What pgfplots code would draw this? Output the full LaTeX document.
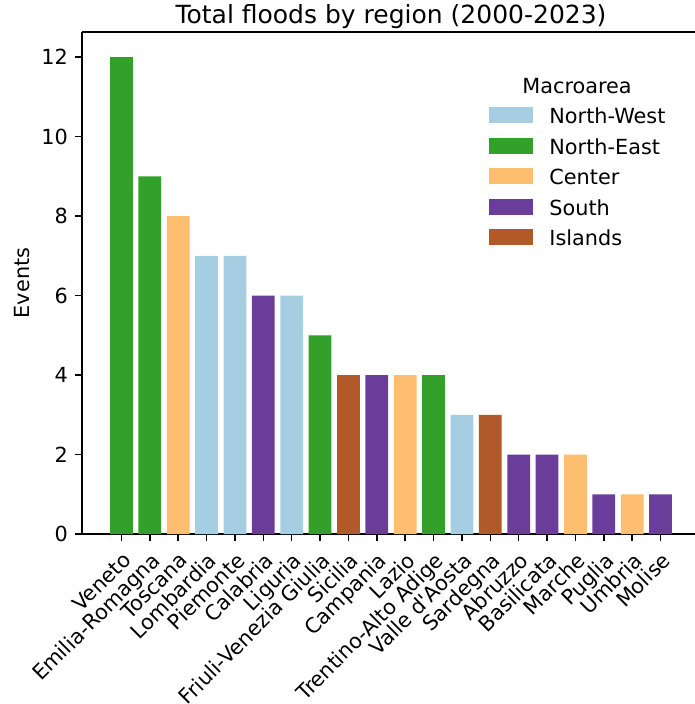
\documentclass[border=0pt]{standalone}
\usepackage{fontspec}
\setmainfont{DejaVu Sans}
\usepackage{pgfplots}
\pgfplotsset{compat=1.18}
\definecolor{cnw}{HTML}{A6CEE3}
\definecolor{cne}{HTML}{33A02C}
\definecolor{cce}{HTML}{FDBF6F}
\definecolor{cso}{HTML}{6A3D9A}
\definecolor{cis}{HTML}{B15928}
\begin{document}
\begin{tikzpicture}
\begin{axis}[
  at={(0,0)}, anchor=south west,
  scale only axis, width=309pt, height=251pt,
  xmin=-1.39, xmax=20.39, ymin=0, ymax=12.63,
  axis x line=box, axis y line=left,
  axis line style={-, line width=0.8pt},
  xtick pos=left,
  tick align=outside, major tick length=3.5pt,
  tick style={black, line width=0.8pt},
  ybar, bar width=0.8, bar shift=0pt,
  xtick={0,...,19},
  xticklabels={Veneto,Emilia-Romagna,Toscana,Lombardia,Piemonte,Calabria,Liguria,Friuli-Venezia Giulia,Sicilia,Campania,Lazio,Trentino-Alto Adige,Valle d\textquotesingle Aosta,Sardegna,Abruzzo,Basilicata,Marche,Puglia,Umbria,Molise},
  xticklabel style={rotate=45, anchor=north east, font=\fontsize{10.4}{12}\selectfont},
  ytick={0,2,4,6,8,10,12},
  yticklabel style={font=\fontsize{10.4}{12}\selectfont},
  /pgf/number format/assume math mode=true,
  ylabel={Events},
  every axis y label/.style={at={(axis description cs:-0.097,0.5)}, rotate=90, anchor=center, font=\fontsize{10.4}{12}\selectfont},
  title={Total floods by region (2000-2023)},
  title style={at={(0.5,1)}, anchor=base, inner sep=0pt, yshift=-2pt, font=\fontsize{12.5}{14}\selectfont},
  legend style={at={(0.6586,0.8505)}, anchor=north west, draw=none, fill=none, inner sep=0pt,
    row sep=4.95pt, column sep=0pt, font=\fontsize{10.4}{12}\selectfont,
    nodes={inner sep=0pt, text height=7.5pt, text depth=2pt}},
  legend cell align=left,
  legend image code/.code={\fill[#1] (0pt,-2.5pt) rectangle (22pt,5.5pt);},
  /tikz/every odd column/.append style={column sep=8pt},
]
\addplot[fill=cnw, draw=none] coordinates {(3,7) (4,7) (6,6) (12,3)};
\addlegendentry{North-West}
\addplot[fill=cne, draw=none] coordinates {(0,12) (1,9) (7,5) (11,4)};
\addlegendentry{North-East}
\addplot[fill=cce, draw=none] coordinates {(2,8) (10,4) (16,2) (18,1)};
\addlegendentry{Center}
\addplot[fill=cso, draw=none] coordinates {(5,6) (9,4) (14,2) (15,2) (17,1) (19,1)};
\addlegendentry{South}
\addplot[fill=cis, draw=none] coordinates {(8,4) (13,3)};
\addlegendentry{Islands}
\node[font=\fontsize{10.4}{12}\selectfont] at (axis description cs:0.801,0.892) {Macroarea};
\end{axis}
\pgfresetboundingbox
\useasboundingbox (-41pt,-85pt) rectangle (306pt,267pt);
\end{tikzpicture}
\end{document}
